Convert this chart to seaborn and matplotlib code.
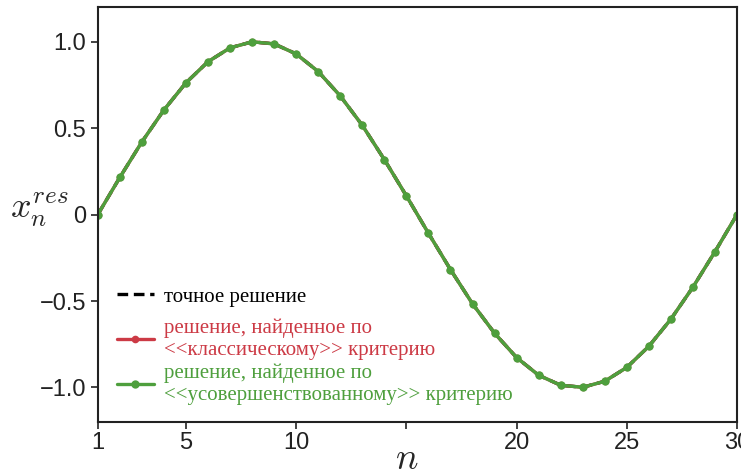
import matplotlib
matplotlib.use("Agg")
import matplotlib.pyplot as plt
import seaborn as sns
import pandas as pd

# Discrete time steps
n = list(range(1, 31))

# Exact solution x_n
exact = [0.000, 0.215, 0.420, 0.605, 0.762, 0.884, 0.964, 0.999, 0.987, 0.929,
         0.827, 0.686, 0.516, 0.318, 0.108, -0.108, -0.318, -0.516, -0.686, -0.827,
         -0.929, -0.987, -0.999, -0.964, -0.884, -0.762, -0.605, -0.420, -0.215, 0.000]

# Solution recovered with the classical criterion
classic = [0.000, 0.215, 0.420, 0.605, 0.762, 0.884, 0.964, 0.999, 0.987, 0.929,
           0.827, 0.686, 0.516, 0.318, 0.108, -0.108, -0.318, -0.516, -0.686, -0.827,
           -0.929, -0.987, -0.999, -0.964, -0.884, -0.762, -0.605, -0.420, -0.215, 0.000]

# Solution recovered with the improved criterion
improved = [0.000, 0.215, 0.420, 0.605, 0.762, 0.884, 0.964, 0.999, 0.987, 0.929,
            0.827, 0.686, 0.516, 0.318, 0.108, -0.108, -0.318, -0.516, -0.686, -0.827,
            -0.929, -0.987, -0.999, -0.964, -0.884, -0.762, -0.605, -0.420, -0.215, 0.000]

labels = ["точное решение",
          "решение, найденное по\n<<классическому>> критерию",
          "решение, найденное по\n<<усовершенствованному>> критерию"]

x_ticks = [1, 5, 10, 15, 20, 25, 30]
x_tick_labels = ["1", "5", "10", "", "20", "25", "30"]
y_ticks = [-1.0, -0.5, 0.0, 0.5, 1.0]
y_tick_labels = ["\u22121.0", "\u22120.5", "0", "0.5", "1.0"]

sns.set_theme(style="ticks")
plt.rcParams["font.family"] = ["Liberation Sans", "DejaVu Sans"]
plt.rcParams["mathtext.fontset"] = "cm"

fig = plt.figure(figsize=(7.41, 4.70), dpi=100)
ax = fig.add_axes([0.132, 0.102, 0.8626, 0.883])

red = "#cc3a45"
green = "#4e9f3d"

df = pd.DataFrame({"n": n, "exact": exact, "classic": classic, "improved": improved})

sns.lineplot(data=df, x="n", y="exact", ax=ax, color="black", linewidth=2.4,
             linestyle=(0, (3.2, 1.7)), label=labels[0])
sns.lineplot(data=df, x="n", y="classic", ax=ax, color=red, linewidth=2.4,
             marker="o", markersize=5.5, markeredgewidth=0, label=labels[1])
sns.lineplot(data=df, x="n", y="improved", ax=ax, color=green, linewidth=2.4,
             marker="o", markersize=6, markeredgewidth=0, label=labels[2])

ax.set_xlim(1, 30)
ax.set_ylim(-1.2, 1.2)
ax.set_xticks(x_ticks)
ax.set_xticklabels(x_tick_labels)
ax.set_yticks(y_ticks)
ax.set_yticklabels(y_tick_labels)
ax.tick_params(labelsize=17, length=5, width=1.2, colors="#222222")
ax.tick_params(axis="x", pad=2)
for sp in ax.spines.values():
    sp.set_linewidth(1.5)
    sp.set_color("#222222")

ax.set_xlabel("$n$", fontsize=27)
ax.xaxis.set_label_coords(0.483, -0.045)
ax.set_ylabel("$x_n^{res}$", fontsize=26, rotation=0)
ax.yaxis.set_label_coords(-0.092, 0.465)

# Legend: exact solution on its own row, the two criteria packed below it
handles, _ = ax.get_legend_handles_labels()
leg_kw = dict(frameon=False, prop={"family": "Liberation Serif", "size": 15},
              handlelength=1.8, handletextpad=0.5)
leg_top = ax.legend(handles[:1], labels[:1], loc="center left",
                    bbox_to_anchor=(0.0, 0.302), **leg_kw)
leg_top.get_texts()[0].set_color("black")
ax.add_artist(leg_top)
leg_bot = ax.legend(handles[1:], labels[1:], loc="lower left",
                    bbox_to_anchor=(0.0, -0.004), labelspacing=0.17, **leg_kw)
for txt, col in zip(leg_bot.get_texts(), [red, green]):
    txt.set_color(col)

fig.savefig("out.png", dpi=100)
